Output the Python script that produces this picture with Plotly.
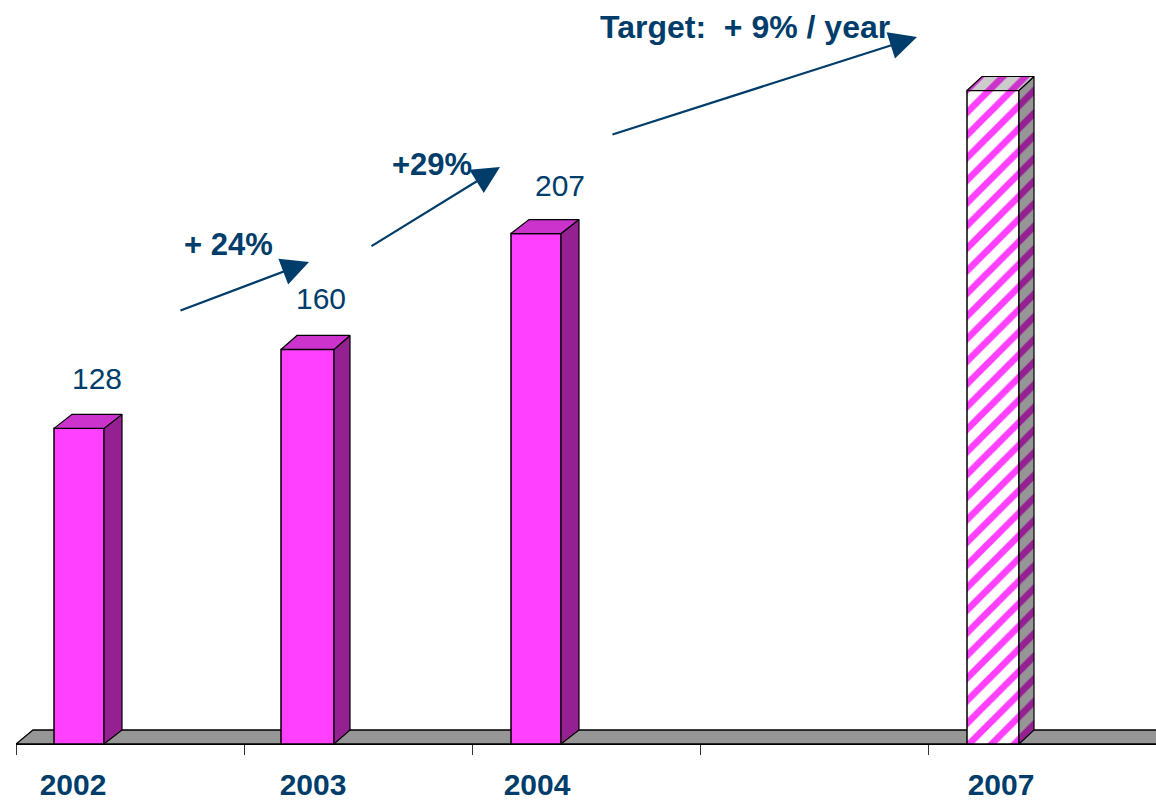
import plotly.graph_objects as go

# --- data ---
years = ["2002", "2003", "2004", "2007"]
values = [128, 160, 207, 265]
slot_index = [0, 1, 2, 4]
growth_labels = ["+ 24%", "+29%", "Target:  + 9% / year"]

# --- layout constants (pixels in the 1156x802 page) ---
W, H = 1156, 802
AX_LEFT, AX_BOTTOM = 16, 744
SLOT_PX = 228
Y_PX_PER_UNIT = 2.466
NAVY = "#003D6B"
MAGENTA, MAGENTA_TOP, MAGENTA_SIDE = "#FF40FF", "#CC33CC", "#952092"
GREY, LIGHT_GREY = "#969696", "#CCCCCC"
FONT = "Liberation Sans"

bar_left_px = [54, 281, 511, 967]
bar_width_px = [50, 53, 50, 52]
bar_depth_px = [18, 16, 18, 15]
DEPTH_Y_PX = 14


def dx(px):
    return px / SLOT_PX


def dy(px):
    return px / Y_PX_PER_UNIT


def x_of(px):
    return (px - AX_LEFT) / SLOT_PX


def y_of(py):
    return (AX_BOTTOM - py) / Y_PX_PER_UNIT


x_left = [x_of(p) for p in bar_left_px]
x_width = [dx(p) for p in bar_width_px]
x_mid = [l + w / 2 for l, w in zip(x_left, x_width)]

fig = go.Figure()

# front faces
solid = [0, 1, 2]
fig.add_trace(go.Bar(
    x=[x_mid[i] for i in solid], y=[values[i] for i in solid],
    width=[x_width[i] for i in solid],
    marker=dict(color=MAGENTA, line=dict(color="black", width=1.5)),
    hoverinfo="skip", showlegend=False))
fig.add_trace(go.Bar(
    x=[x_mid[3]], y=[values[3]], width=[x_width[3]],
    marker=dict(color="white", line=dict(color="black", width=1.5),
                pattern=dict(shape="/", fgcolor=MAGENTA, bgcolor="white",
                             size=16, solidity=0.42, fillmode="replace")),
    hoverinfo="skip", showlegend=False))


def face(xs, ys, color, pattern=None):
    kw = dict(fillcolor=color)
    if pattern:
        kw = dict(fillpattern=pattern)
    fig.add_trace(go.Scatter(
        x=xs, y=ys, mode="lines", fill="toself",
        line=dict(color="black", width=1.2),
        hoverinfo="skip", showlegend=False, **kw))


# 3D side and top faces, derived from each value
for i, v in enumerate(values):
    r = x_left[i] + x_width[i]
    l = x_left[i]
    d = dx(bar_depth_px[i])
    h = dy(DEPTH_Y_PX)
    side_p = top_p = None
    side_c, top_c = MAGENTA_SIDE, MAGENTA_TOP
    if i == 3:
        side_p = dict(shape="/", fgcolor=MAGENTA_SIDE, bgcolor=GREY, size=16,
                      solidity=0.42, fillmode="replace")
        top_p = dict(shape="/", fgcolor=MAGENTA_TOP, bgcolor=LIGHT_GREY, size=16,
                     solidity=0.42, fillmode="replace")
    face([r, r + d, r + d, r, r], [0, h, v + h, v, 0], side_c, side_p)
    face([l, l + d, r + d, r, l], [v, v + h, v + h, v, v], top_c, top_p)

# floor
floor_h = dy(DEPTH_Y_PX)
floor_d = dx(17)
shapes = [dict(type="path", layer="below", xref="x", yref="y",
               path=f"M 0 0 L {floor_d} {floor_h} L 5.05 {floor_h} L 5.05 0 Z",
               fillcolor=GREY, line=dict(color="black", width=1.3))]

annotations = []
# value labels
label_cx_px = [97, 321, 560]
label_cy_px = [378, 298, 185]
for v, cx, cy in zip(values[:3], label_cx_px, label_cy_px):
    annotations.append(dict(x=x_of(cx), y=y_of(cy), text=str(v), showarrow=False,
                            xanchor="center", yanchor="middle",
                            font=dict(family=FONT, size=30, color=NAVY)))

# growth labels and arrows
text_cx_px = [228, 432, 745]
text_cy_px = [244, 164, 27]
text_sizes = [31, 31, 32]
for t, cx, cy, s in zip(growth_labels, text_cx_px, text_cy_px, text_sizes):
    annotations.append(dict(x=x_of(cx), y=y_of(cy), text=f"<b>{t}</b>", showarrow=False,
                            xanchor="center", yanchor="middle",
                            font=dict(family=FONT, size=s, color=NAVY)))

arrow_from_px = [(179, 311), (370, 247), (611, 135)]
arrow_to_px = [(309, 262), (500, 167), (917, 37)]
for (x0, y0), (x1, y1) in zip(arrow_from_px, arrow_to_px):
    annotations.append(dict(x=x_of(x1), y=y_of(y1), ax=x_of(x0), ay=y_of(y0),
                            xref="x", yref="y", axref="x", ayref="y", text="",
                            showarrow=True, arrowhead=2, arrowsize=2.5,
                            arrowwidth=2.2, arrowcolor=NAVY, standoff=0))

# year tick labels sit at their own positions; boundary ticks are minor ticks
label_px = [73, 313, 537, 1001]

fig.update_layout(
    width=W, height=H, autosize=False,
    margin=dict(l=AX_LEFT, r=0, t=0, b=H - AX_BOTTOM, pad=0, autoexpand=False),
    paper_bgcolor="white", plot_bgcolor="white",
    barmode="overlay", shapes=shapes, annotations=annotations,
    xaxis=dict(
        range=[0, (W - AX_LEFT) / SLOT_PX], showgrid=False, zeroline=False,
        automargin=False,
        showline=True, linecolor="black", linewidth=1.3,
        tickmode="array", tickvals=[x_of(p) for p in label_px], ticktext=years,
        ticks="", ticklabelstandoff=14,
        tickfont=dict(family=FONT, size=30, color=NAVY, weight="bold"),
        minor=dict(tickmode="array", tickvals=[0, 1, 2, 3, 4, 5], ticks="outside",
                   ticklen=10, tickcolor="#333333", tickwidth=1, showgrid=False),
    ),
    yaxis=dict(range=[0, AX_BOTTOM / Y_PX_PER_UNIT], visible=False),
)

fig.write_html(
    "out.html",
    config={"displayModeBar": False},
    post_script="document.body.style.margin='0';document.documentElement.style.overflow='hidden';",
)
